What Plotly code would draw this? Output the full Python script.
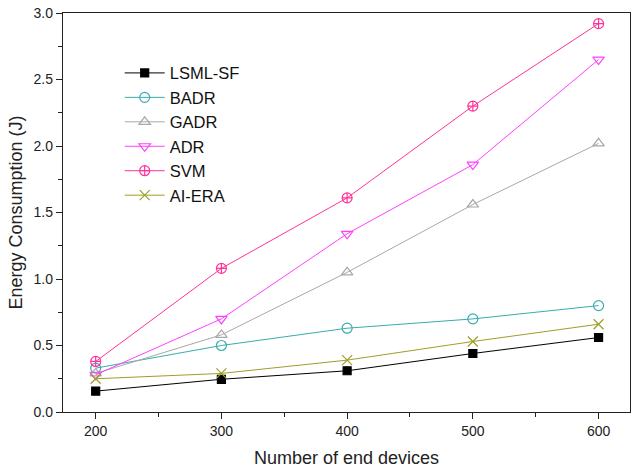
import plotly.graph_objects as go

x_devices = [200, 300, 400, 500, 600]
lsml_sf = [0.157, 0.246, 0.31, 0.44, 0.56]
badr = [0.33, 0.50, 0.63, 0.70, 0.80]
gadr = [0.29, 0.58, 1.05, 1.56, 2.02]
adr = [0.28, 0.70, 1.34, 1.86, 2.65]
svm = [0.38, 1.08, 1.61, 2.30, 2.92]
ai_era = [0.25, 0.29, 0.39, 0.53, 0.66]

series = [
    ("LSML-SF", lsml_sf, "#000000", "square", 8),
    ("BADR", badr, "#3aacac", "circle-open", 10),
    ("GADR", gadr, "#a8a8a8", "triangle-up-open", 10),
    ("ADR", adr, "#ff40ff", "triangle-down-open", 10),
    ("SVM", svm, "#ff3399", "circle-cross-open", 10),
    ("AI-ERA", ai_era, "#9e9e2a", "x-thin-open", 10),
]

fig = go.Figure()
for name, ys, color, sym, size in series:
    fig.add_trace(go.Scatter(
        x=x_devices, y=ys, name=name, mode="lines+markers",
        line=dict(color=color, width=1),
        marker=dict(symbol=sym, size=size, color=color, line=dict(color=color, width=1.2)),
    ))

font_family = "Arial, Liberation Sans"
axis_common = dict(
    showgrid=False, zeroline=False, showline=True, linecolor="#222222", linewidth=1.3,
    mirror=True, ticks="outside", ticklen=6, tickcolor="#222222", tickwidth=1.3,
    tickfont=dict(family=font_family, size=14, color="#222222"),
)

fig.update_xaxes(
    range=[174, 625], tickvals=[200, 300, 400, 500, 600],
    minor=dict(tickvals=[250, 350, 450, 550], ticks="outside", ticklen=4, tickcolor="#222222", tickwidth=1.2),
    title=dict(text="Number of end devices", font=dict(family=font_family, size=18, color="#222222"), standoff=13),
    **axis_common,
)
fig.update_yaxes(
    range=[0, 3.0], tickvals=[0, 0.5, 1.0, 1.5, 2.0, 2.5, 3.0], tickformat=".1f",
    minor=dict(tickvals=[0.25, 0.75, 1.25, 1.75, 2.25, 2.75], ticks="outside", ticklen=4, tickcolor="#222222", tickwidth=1.2),
    title=dict(text="Energy Consumption (J)", font=dict(family=font_family, size=18, color="#222222"), standoff=6),
    **axis_common,
)

fig.update_layout(
    width=636, height=470,
    margin=dict(l=63, r=5, t=10, b=58),
    plot_bgcolor="white", paper_bgcolor="white",
    legend=dict(x=0.1, y=0.893, xanchor="left", yanchor="top",
                font=dict(family=font_family, size=16.5, color="#111111"),
                bgcolor="rgba(0,0,0,0)", tracegroupgap=0, itemwidth=40),
)

fig.write_html("out.html")
